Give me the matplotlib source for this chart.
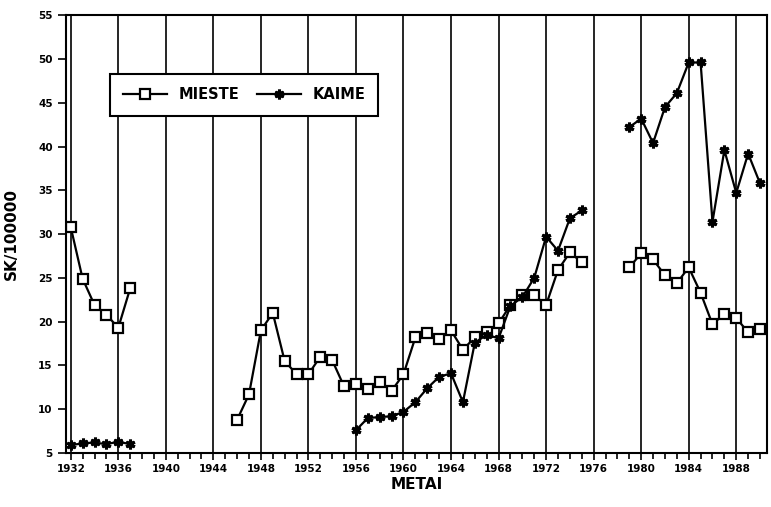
import numpy as np
import matplotlib
matplotlib.use('Agg')
import matplotlib.pyplot as plt
from matplotlib.ticker import MultipleLocator

nan = np.nan

# years with NaN gaps between the three observation periods
years = [1932, 1933, 1934, 1935, 1936, 1937, 1938,
         1946, 1947, 1948, 1949, 1950, 1951, 1952, 1953, 1954, 1955,
         1956, 1957, 1958, 1959, 1960, 1961, 1962, 1963, 1964, 1965,
         1966, 1967, 1968, 1969, 1970, 1971, 1972, 1973, 1974, 1975, 1976,
         1979, 1980, 1981, 1982, 1983, 1984, 1985, 1986, 1987, 1988, 1989, 1990]

mieste = [30.8, 24.9, 21.9, 20.8, 19.3, 23.8, nan,
          8.8, 11.7, 19.0, 21.0, 15.5, 14.0, 14.0, 16.0, 15.6, 12.6,
          12.9, 12.3, 13.1, 12.1, 14.0, 18.2, 18.7, 18.0, 19.0, 16.8,
          18.2, 18.8, 19.8, 21.9, 23.0, 23.0, 21.9, 25.9, 27.9, 26.8, nan,
          26.2, 27.8, 27.1, 25.3, 24.4, 26.2, 23.3, 19.7, 20.9, 20.4, 18.8, 19.2]

kaime = [5.9, 6.1, 6.2, 6.0, 6.3, 6.0, nan,
         nan, nan, nan, nan, nan, nan, nan, nan, nan, nan,
         7.6, 9.0, 9.1, 9.2, 9.7, 10.8, 12.4, 13.7, 14.1, 10.8,
         17.6, 18.5, 18.1, 21.8, 22.8, 25.0, 29.7, 28.1, 31.8, 32.7, nan,
         42.2, 43.2, 40.4, 44.5, 46.1, 49.6, 49.6, 31.4, 39.6, 34.7, 39.2, 35.8]

grid_years = list(range(1932, 1989, 4))
y_ticks = list(range(5, 56, 5))

fig = plt.figure(figsize=(7.71, 5.07), dpi=100)
ax = fig.add_axes([0.0856, 0.1065, 0.9094, 0.8635])

ax.plot(years, mieste, color='black', lw=1.6, marker='s', ms=6.5,
        mfc='white', mec='black', mew=1.6, label='MIESTE')
ax.plot(years, kaime, color='black', lw=1.6, marker=(6, 2, 0), ms=7,
        mec='black', mew=2.2, label='KAIME')

for g in grid_years:
    ax.axvline(g, color='black', lw=1.2, zorder=0)

ax.set_xlim(1931.6, 1990.6)
ax.set_ylim(5, 55)
ax.set_xticks(grid_years)
ax.set_xticklabels([str(g) for g in grid_years])
ax.xaxis.set_minor_locator(MultipleLocator(1))
ax.set_yticks(y_ticks)

ax.tick_params(axis='x', which='major', direction='out', length=5, width=1.2,
               labelsize=7.5, pad=3)
ax.tick_params(axis='x', which='minor', direction='out', length=4, width=1.2)
ax.tick_params(axis='y', direction='out', length=6, width=1.2, labelsize=7.5)
for lab in ax.get_xticklabels() + ax.get_yticklabels():
    lab.set_fontweight('bold')

for s in ax.spines.values():
    s.set_linewidth(1.5)

ax.set_ylabel('SK/100000', fontsize=11, fontweight='bold', labelpad=14)
ax.set_xlabel('METAI', fontsize=11, fontweight='bold', labelpad=2)

leg = ax.legend(loc='upper left', bbox_to_anchor=(0.063, 0.865), ncol=2,
                frameon=True, fancybox=False, handlelength=3.0,
                columnspacing=1.2, handletextpad=0.8, borderpad=0.9,
                borderaxespad=0, prop={'weight': 'bold', 'size': 10.5})
leg.get_frame().set_edgecolor('black')
leg.get_frame().set_linewidth(1.5)
leg.get_frame().set_alpha(1)

fig.savefig('out.png', dpi=100)
